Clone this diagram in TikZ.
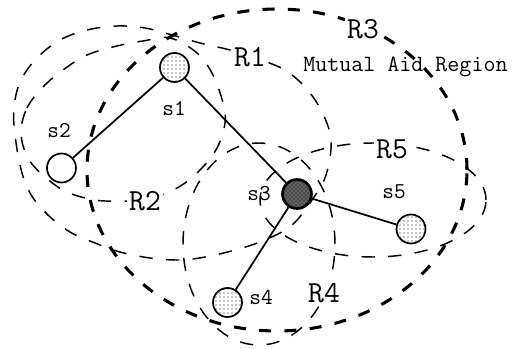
\documentclass[tikz,border=0pt]{standalone}
\usepackage{fontspec}
\usetikzlibrary{patterns}
\begin{document}
\begin{tikzpicture}[x=0.75pt,y=-0.75pt,
  region/.style={line width=1.1pt, dash pattern=on 10pt off 10pt},
  bigregion/.style={line width=2.3pt, dash pattern=on 9pt off 10pt},
  sensor/.style={circle, draw, line width=1.3pt, minimum size=21.75pt, inner sep=0pt, fill=white},
  light/.style={sensor, preaction={fill=white}, pattern=dots},
  dark/.style={sensor, line width=2pt, preaction={fill=black!62}, pattern=crosshatch dots},
  empty/.style={sensor},
  link/.style={line width=1.3pt},
  slabel/.style={font=\ttfamily\fontsize{17}{18}\selectfont, inner sep=0pt},
  rlabel/.style={font=\ttfamily\fontsize{23}{24}\selectfont, fill=white, inner sep=1.5pt},
  mlabel/.style={font=\ttfamily\fontsize{17.5}{18}\selectfont, inner sep=0pt, anchor=base west},
]
\useasboundingbox (0,0) rectangle (517,349);
\clip (0,0) rectangle (517,349);

% R3: mutual aid region (thick)
\draw[bigregion] (277,170) ellipse [x radius=142.5pt, y radius=120.75pt];
% R4
\draw[region] (259,244) ellipse [x radius=57pt, y radius=75.75pt];
% R5
\draw[region] (373,200) ellipse [x radius=84.75pt, y radius=42.75pt];
% R1
\draw[region] plot[smooth cycle, tension=0.6] coordinates {
  (14,125) (15,100) (22,78) (38,57) (60,40) (87,30) (117,26) (145,28)
  (172,35) (200,43) (230,50) (255,58) (283,69) (304,86) (321,110) (331,140)
  (326,175) (312,200) (292,225) (265,240) (235,250) (205,257) (180,260)
  (150,258) (120,252) (95,243) (70,232) (48,215) (30,193) (20,165)};
% R2
\draw[region] plot[smooth cycle, tension=0.6] coordinates {
  (21,133) (27,108) (43,87) (63,70) (87,55) (117,46) (143,41) (170,38)
  (197,53) (213,75) (223,103) (225,123) (217,148) (200,170) (177,188)
  (145,200) (120,201) (95,200) (67,192) (45,177) (28,158)};

% sensors
\node[light] (s1) at (174.5,67.5) {};
\node[empty] (s2) at (61.5,168) {};
\node[dark]  (s3) at (297,194) {};
\node[light] (s4) at (227.5,302.5) {};
\node[light] (s5) at (411,229) {};

\draw[link] (s1) -- (s2);
\draw[link] (s1) -- (s3);
\draw[link] (s3) -- (s4);
\draw[link] (s3) -- (s5);

% sensor labels
\node[slabel] (l1) at (174,109) {s1};
\node[slabel] (l2) at (59,131) {s2};
\node[slabel] (l3) at (259,194) {s3};
\node[slabel] (l4) at (261,297) {s4};
\node[slabel] (l5) at (394,192) {s5};

% region labels
\node[rlabel] (r1) at (250,57) {R1};
\node[rlabel] (r2) at (145,201) {R2};
\node[rlabel] (r3) at (363,29) {R3};
\node[rlabel] (r4) at (324,293) {R4};
\node[rlabel] (r5) at (392,149) {R5};
\node[mlabel] (mar) at (303,72) {Mutual Aid Region};
\end{tikzpicture}
\end{document}
